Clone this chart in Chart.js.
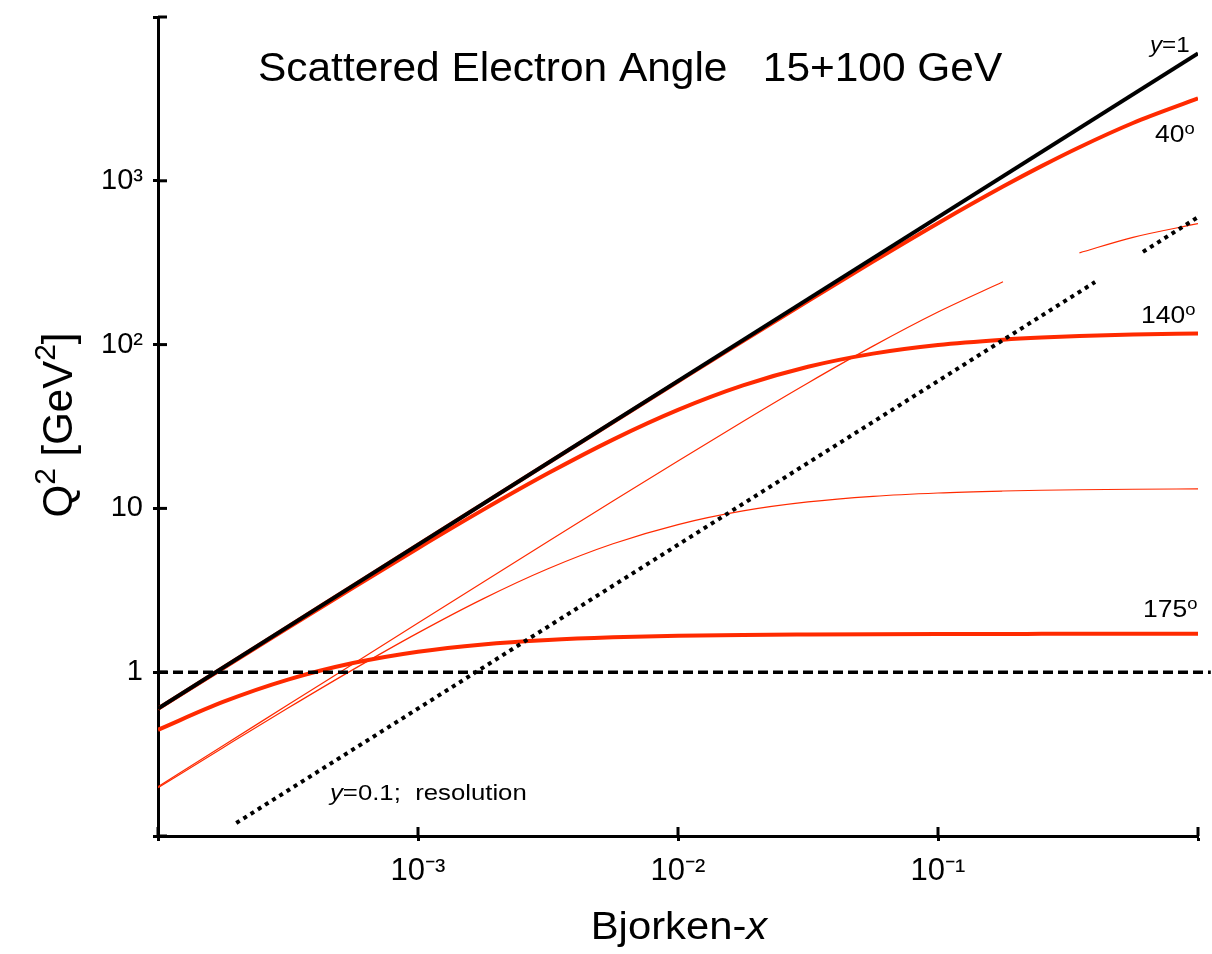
<!DOCTYPE html>
<html><head><meta charset="utf-8">
<script src="https://cdn.jsdelivr.net/npm/chart.js@4.4.1/dist/chart.umd.min.js"></script>
<style>html,body{margin:0;padding:0;background:#fff}canvas{display:block}</style>
</head><body>
<canvas id="c" width="1212" height="954"></canvas>
<script>
// Bjorken-x grid
const xGrid = [1e-4, 1.778e-4, 3.162e-4, 5.623e-4, 1e-3, 1.778e-3, 3.162e-3, 5.623e-3, 1e-2, 1.778e-2, 3.162e-2, 5.623e-2, 0.1, 0.1778, 0.25, 0.35, 0.5623, 1];
// thick red: 15+100 GeV electron angles
const q2At40  = [0.600, 1.067, 1.897, 3.372, 5.995, 10.65, 18.92, 33.57, 59.48, 105.1, 184.6, 321.4, 551.3, 922.2, 1229, 1604, 2254, 3186];
const q2At140 = [0.597, 1.058, 1.868, 3.281, 5.712, 9.793, 16.37, 26.30, 39.91, 56.31, 73.22, 88.10, 99.46, 107.2, 110.5, 112.8, 115.2, 116.9];
const q2At175 = [0.445, 0.658, 0.901, 1.137, 1.334, 1.478, 1.573, 1.633, 1.668, 1.689, 1.700, 1.707, 1.711, 1.713, 1.714, 1.714, 1.715, 1.715];
// thin red curves
const q2Thin40  = [0.200, 0.356, 0.632, 1.123, 1.995, 3.540, 6.272, 11.08, 19.48, 33.97, 58.36, 97.89, 158.1, 241.8, null, 363.2, 451.7, 548.0];
const q2Thin140 = [0.197, 0.346, 0.604, 1.037, 1.738, 2.804, 4.281, 6.083, 7.969, 9.653, 10.95, 11.85, 12.42, 12.77, 12.91, 13.00, 13.09, 13.16];
// y = 1 line
const xY1 = [1e-4, 1];
const q2Y1 = [0.6, 6000];
// Q2 = 1 dashed
const xQ2One = [1e-4, 1.12];
const q2One = [1, 1];
// y = 0.1 resolution (dotted)
const xRes = [2e-4, 0.402, 0.5, 0.614, 1];
const q2Res = [0.12, 241, null, 368, 600];
// ticks
const xTickValues = [1e-4, 1e-3, 1e-2, 1e-1, 1];
const xTickLabels = ['', '10⁻³', '10⁻²', '10⁻¹', ''];
const yTickValues = [0.1, 1, 10, 100, 1000, 10000];
const yTickLabels = ['', '1', '10', '10²', '10³', ''];

const RED = '#ff2a00';
const FONT = 'Liberation Sans';
function pts(xs, ys) { return xs.map((x, i) => ({ x: x, y: ys[i] })); }

function drawRich(ctx, x, y, parts, align, sx) {
  ctx.save();
  ctx.translate(x, y);
  ctx.scale(sx || 1, 1);
  ctx.textBaseline = 'alphabetic';
  ctx.textAlign = 'left';
  ctx.fillStyle = '#000';
  let w = 0;
  parts.forEach(p => { ctx.font = p.font; p._w = ctx.measureText(p.t).width; w += p._w; });
  let cx = align === 'center' ? -w / 2 : (align === 'right' ? -w : 0);
  parts.forEach(p => { ctx.font = p.font; ctx.fillText(p.t, cx, -(p.rise || 0)); cx += p._w; });
  ctx.restore();
}

const annot = {
  id: 'annot',
  afterDatasetsDraw(chart) {
    const ctx = chart.ctx, ca = chart.chartArea;
    const xs = chart.scales.x, ys = chart.scales.y;
    // inward tick marks
    ctx.save();
    ctx.strokeStyle = '#000'; ctx.lineWidth = 3;
    xTickValues.forEach(v => { const p = xs.getPixelForValue(v); ctx.beginPath(); ctx.moveTo(p, ca.bottom); ctx.lineTo(p, ca.bottom - 9); ctx.stroke(); });
    yTickValues.forEach(v => { const p = ys.getPixelForValue(v); ctx.beginPath(); ctx.moveTo(ca.left, p); ctx.lineTo(ca.left + 9, p); ctx.stroke(); });
    ctx.restore();

    const f = (s, it) => (it ? 'italic ' : '') + s + 'px "' + FONT + '"';
    drawRich(ctx, 258, 81, [{ t: 'Scattered Electron Angle   15+100 GeV', font: f(41) }], 'left', 1.035);
    drawRich(ctx, 679, 939, [{ t: 'Bjorken-', font: f(38) }, { t: 'x', font: f(38, true) }], 'center', 1.1);
    ctx.save();
    ctx.translate(72, 425);
    ctx.rotate(-Math.PI / 2);
    drawRich(ctx, 0, 0, [
      { t: 'Q', font: f(42) }, { t: '2', font: f(30), rise: 17 },
      { t: ' [GeV', font: f(42) }, { t: '2', font: f(30), rise: 17 }, { t: ']', font: f(42) }
    ], 'center', 1);
    ctx.restore();
    drawRich(ctx, 1150, 52, [{ t: 'y', font: f(22, true) }, { t: '=1', font: f(22) }], 'left', 1.1);
    drawRich(ctx, 1155, 142, [{ t: '40', font: f(23) }, { t: 'o', font: f(16), rise: 8 }], 'left', 1.15);
    drawRich(ctx, 1141, 323, [{ t: '140', font: f(23) }, { t: 'o', font: f(16), rise: 8 }], 'left', 1.15);
    drawRich(ctx, 1143, 617, [{ t: '175', font: f(23) }, { t: 'o', font: f(16), rise: 8 }], 'left', 1.15);
    drawRich(ctx, 330, 800, [{ t: 'y', font: f(22, true) }, { t: '=0.1;  resolution', font: f(22) }], 'left', 1.17);
  }
};

new Chart(document.getElementById('c').getContext('2d'), {
  type: 'line',
  data: {
    datasets: [
      { label: 'y=1', data: pts(xY1, q2Y1), borderColor: '#000', borderWidth: 4 },
      { label: 'Q2=1', data: pts(xQ2One, q2One), borderColor: '#000', borderWidth: 3.5, borderDash: [10, 5], clip: false },
      { label: 'y=0.1 resolution', data: pts(xRes, q2Res), borderColor: '#000', borderWidth: 4, borderDash: [4, 4.5] },
      { label: '40°', data: pts(xGrid, q2At40), borderColor: RED, borderWidth: 4, cubicInterpolationMode: 'monotone' },
      { label: '140°', data: pts(xGrid, q2At140), borderColor: RED, borderWidth: 4, cubicInterpolationMode: 'monotone' },
      { label: '175°', data: pts(xGrid, q2At175), borderColor: RED, borderWidth: 4, cubicInterpolationMode: 'monotone' },
      { label: 'thin 40°', data: pts(xGrid, q2Thin40), borderColor: RED, borderWidth: 1.2, cubicInterpolationMode: 'monotone' },
      { label: 'thin 140°', data: pts(xGrid, q2Thin140), borderColor: RED, borderWidth: 1.2, cubicInterpolationMode: 'monotone' }
    ]
  },
  options: {
    responsive: false, animation: false, devicePixelRatio: 1,
    spanGaps: false,
    layout: { padding: { top: 17, right: 14, left: 0, bottom: 0 } },
    elements: { point: { radius: 0, hoverRadius: 0 }, line: { borderCapStyle: 'butt', fill: false } },
    plugins: { legend: { display: false }, tooltip: { enabled: false }, title: { display: false } },
    scales: {
      x: {
        type: 'logarithmic', position: 'bottom', min: 1e-4, max: 1,
        afterBuildTicks: s => { s.ticks = xTickValues.map(v => ({ value: v })); },
        afterFit: s => { s.height = 118; s.paddingLeft = 0; s.paddingRight = 0; },
        ticks: { callback: (v, i) => xTickLabels[i], font: { family: FONT, size: 31 }, color: '#000', padding: 12, maxRotation: 0, minRotation: 0, autoSkip: false },
        grid: { drawOnChartArea: false, drawTicks: true, tickLength: 5, tickWidth: 3, tickColor: '#000', color: '#000' },
        border: { display: true, color: '#000', width: 3 }
      },
      y: {
        type: 'logarithmic', position: 'left', min: 0.1, max: 10000,
        afterBuildTicks: s => { s.ticks = yTickValues.map(v => ({ value: v })); },
        afterFit: s => { s.width = 158; s.paddingTop = 0; s.paddingBottom = 0; },
        ticks: { callback: (v, i) => yTickLabels[i], font: { family: FONT, size: 29 }, color: '#000', padding: 10, autoSkip: false },
        grid: { drawOnChartArea: false, drawTicks: true, tickLength: 5, tickWidth: 3, tickColor: '#000', color: '#000' },
        border: { display: true, color: '#000', width: 3 }
      }
    }
  },
  plugins: [annot]
});
</script>
</body></html>
